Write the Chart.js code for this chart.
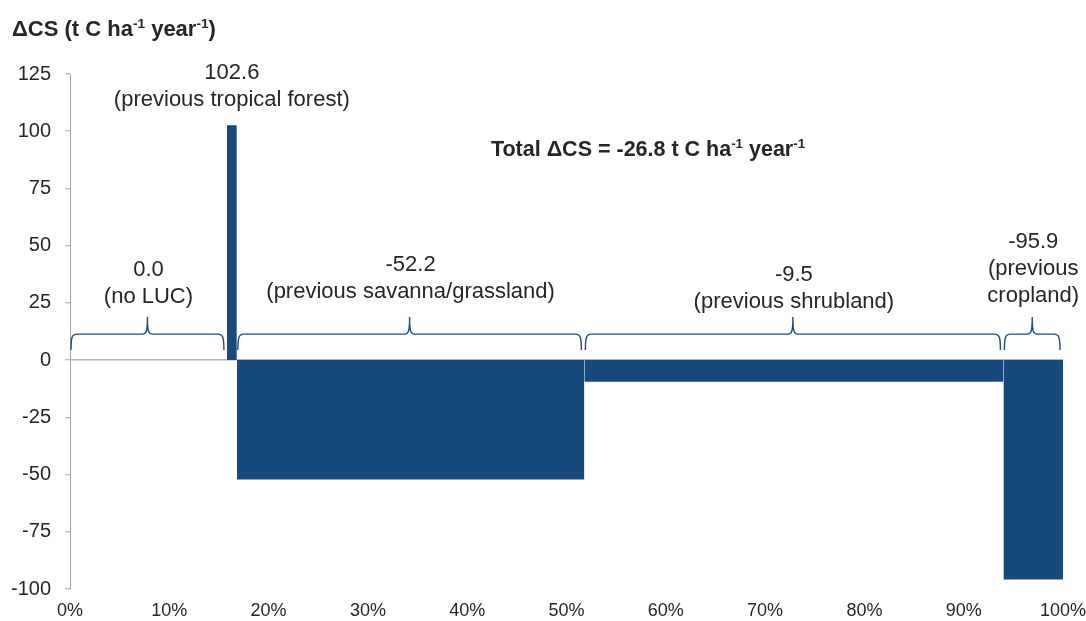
<!DOCTYPE html>
<html>
<head>
<meta charset="utf-8">
<script src="https://cdn.jsdelivr.net/npm/chart.js@4/dist/chart.umd.min.js"></script>
<style>
  html, body { margin: 0; padding: 0; background: #fff; }
  #wrap { width: 1086px; height: 621px; }
</style>
</head>
<body>
<div id="wrap"><canvas id="lucChart" width="1086" height="621"></canvas></div>
<script>
// Share of area (%) for each land-use-change class and its carbon stock change
const segStart = [0, 15.8, 16.8, 51.8, 94.0];
const segEnd = [15.8, 16.8, 51.8, 94.0, 100];
const deltaCS = [0.0, 102.6, -52.2, -9.5, -95.9];
const segNames = [['(no LUC)'], ['(previous tropical forest)'], ['(previous savanna/grassland)'], ['(previous shrubland)'], ['(previous', 'cropland)']];
const totalCS = -26.8;

const yTicks = [-100, -75, -50, -25, 0, 25, 50, 75, 100, 125];
const xTicks = [0, 10, 20, 30, 40, 50, 60, 70, 80, 90, 100];

// label placement (value where the first text line sits) and which segments get a brace
const labelAt = [39.3, 125.4, 41.5, 37.1, 51.6];
const hasBrace = [true, false, true, true, true];

const barColor = '#174a7c';
const textColor = '#262626';
const fontFamily = '"Liberation Sans", Arial, sans-serif';

// draw text with superscript parts
function richText(ctx, parts, x, y, size, bold, align) {
    const weight = bold ? 'bold ' : '';
    let width = 0;
    parts.forEach(p => {
        ctx.font = weight + (p.sup ? size * 0.62 : size) + 'px ' + fontFamily;
        width += ctx.measureText(p.t).width;
    });
    let cx = align === 'center' ? x - width / 2 : x;
    ctx.textAlign = 'left';
    ctx.textBaseline = 'alphabetic';
    parts.forEach(p => {
        ctx.font = weight + (p.sup ? size * 0.62 : size) + 'px ' + fontFamily;
        ctx.fillText(p.t, cx, p.sup ? y - size * 0.38 : y);
        cx += ctx.measureText(p.t).width;
    });
}

function drawBrace(ctx, x1, x2, yb, yh, yt) {
    const xm = (x1 + x2) / 2;
    ctx.beginPath();
    ctx.moveTo(x1, yb);
    ctx.bezierCurveTo(x1, yh + 3, x1 + 1, yh, x1 + 6, yh);
    ctx.lineTo(xm - 5, yh);
    ctx.bezierCurveTo(xm - 1, yh, xm, yh - 3, xm, yt);
    ctx.moveTo(xm, yt);
    ctx.bezierCurveTo(xm, yh - 3, xm + 1, yh, xm + 5, yh);
    ctx.lineTo(x2 - 6, yh);
    ctx.bezierCurveTo(x2 - 1, yh, x2, yh + 3, x2, yb);
    ctx.stroke();
}

const annotations = {
    id: 'annotations',
    afterDatasetsDraw(chart) {
        const ctx = chart.ctx;
        const xs = chart.scales.x;
        const ys = chart.scales.y;
        const y0 = ys.getPixelForValue(0);
        ctx.save();

        // braces over each segment
        ctx.strokeStyle = '#1f4e79';
        ctx.lineWidth = 1.4;
        segStart.forEach((s, i) => {
            if (!hasBrace[i]) return;
            const x1 = xs.getPixelForValue(s) + 1;
            const x2 = xs.getPixelForValue(segEnd[i]) - 3;
            drawBrace(ctx, x1, x2, y0 - 10, y0 - 26, y0 - 43);
        });

        // value + class labels
        ctx.fillStyle = textColor;
        ctx.font = '22px ' + fontFamily;
        ctx.textAlign = 'center';
        ctx.textBaseline = 'middle';
        segStart.forEach((s, i) => {
            const xc = xs.getPixelForValue((s + segEnd[i]) / 2);
            let yc = ys.getPixelForValue(labelAt[i]);
            const lines = [deltaCS[i].toFixed(1)].concat(segNames[i]);
            lines.forEach(line => {
                ctx.fillText(line, xc, yc);
                yc += 27;
            });
        });

        // axis title and total
        richText(ctx, [{t: '\u0394CS (t C ha'}, {t: '-1', sup: true}, {t: ' year'}, {t: '-1', sup: true}, {t: ')'}], 12, 36, 22, true, 'left');
        richText(ctx, [{t: 'Total \u0394CS = ' + totalCS.toFixed(1) + ' t C ha'}, {t: '-1', sup: true}, {t: ' year'}, {t: '-1', sup: true}], 648, 156, 21.5, true, 'center');
        ctx.restore();
    }
};

const ctx = document.getElementById('lucChart').getContext('2d');
const lucChart = new Chart(ctx, {
    type: 'line',
    data: {
        datasets: segStart.map((s, i) => ({
            label: segNames[i].join(' '),
            data: [{x: s, y: deltaCS[i]}, {x: segEnd[i], y: deltaCS[i]}],
            fill: 'origin',
            backgroundColor: barColor,
            borderColor: 'rgba(0,0,0,0)',
            borderWidth: 0,
            pointRadius: 0,
            tension: 0
        }))
    },
    options: {
        responsive: false,
        animation: false,
        layout: { padding: { top: 74, right: 23, left: 0, bottom: 0 } },
        plugins: { legend: { display: false }, tooltip: { enabled: false } },
        scales: {
            x: {
                type: 'linear',
                min: 0,
                max: 100,
                afterBuildTicks: scale => { scale.ticks = xTicks.map(v => ({ value: v })); },
                afterFit: scale => {
                    scale.height = 32;
                    scale.paddingLeft = 0;
                    scale.paddingRight = 0;
                },
                grid: { display: false, drawTicks: false },
                border: { display: false },
                ticks: {
                    padding: 11,
                    color: textColor,
                    font: { family: fontFamily, size: 18 },
                    maxRotation: 0,
                    callback: value => value + '%'
                }
            },
            y: {
                min: -100,
                max: 125,
                afterBuildTicks: scale => { scale.ticks = yTicks.map(v => ({ value: v })); },
                afterFit: scale => {
                    scale.width = 70;
                    scale.paddingTop = 0;
                    scale.paddingBottom = 0;
                },
                grid: {
                    color: c => (c.tick && c.tick.value === 0) ? '#b3b3b3' : 'rgba(0,0,0,0)',
                    lineWidth: 1.5,
                    tickColor: '#a6a6a6',
                    tickLength: 5,
                    tickWidth: 1
                },
                border: { display: true, color: '#a6a6a6', width: 1 },
                ticks: {
                    padding: 14,
                    color: textColor,
                    font: { family: fontFamily, size: 20 }
                }
            }
        }
    },
    plugins: [annotations]
});
</script>
</body>
</html>
